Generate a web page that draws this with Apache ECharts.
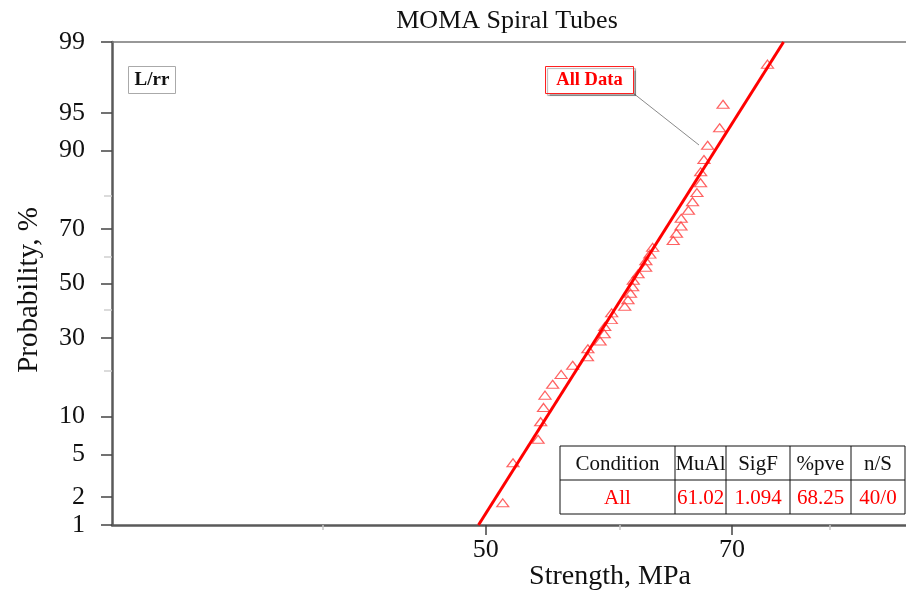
<!DOCTYPE html>
<html><head><meta charset="utf-8">
<script src="https://cdn.jsdelivr.net/npm/echarts@6/dist/echarts.min.js"></script>
<style>html,body{margin:0;padding:0;background:#fff}#c{width:906px;height:595px}</style>
</head><body><div id="c"></div>
<script>
// ---- data ----
const strength = [51.17, 51.89, 53.70, 53.89, 54.10, 54.21, 54.78, 55.42, 56.30, 57.45,
                  57.48, 58.45, 58.78, 58.82, 59.35, 59.38, 60.45, 60.72, 60.93, 61.11,
                  61.16, 61.56, 62.20, 62.22, 62.56, 62.80, 64.59, 64.88, 65.28, 65.30,
                  65.95, 66.32, 66.72, 67.05, 67.06, 67.36, 67.70, 68.82, 69.14, 73.47];
const probability = [1.73, 4.21, 6.68, 9.16, 11.63, 14.11, 16.58, 19.06, 21.53, 24.01,
                     26.49, 28.96, 31.44, 33.91, 36.39, 38.86, 41.34, 43.81, 46.29, 48.76,
                     51.24, 53.71, 56.19, 58.66, 61.14, 63.61, 66.09, 68.56, 71.04, 73.51,
                     75.99, 78.47, 80.94, 83.42, 85.89, 88.37, 90.84, 93.32, 95.79, 98.27];
const fitStrength = [49.5, 75.1];
const fitProbability = [1, 99];
const yTickLabels = [1, 2, 5, 10, 30, 50, 70, 90, 95, 99];
const yMinorTicks = [20, 40, 60, 80];
const xTickLabels = [50, 70];
const xMinorTicks = [40, 60, 80];
const xRange = [30, 90];
const yRange = [1, 99];
const tableHeader = ['Condition', 'MuAl', 'SigF', '%pve', 'n/S'];
const tableRow = ['All', '61.02', '1.094', '68.25', '40/0'];

// ---- scale transforms (lognormal probability paper) ----
function normInv(p){
  const a=[-3.969683028665376e+01,2.209460984245205e+02,-2.759285104469687e+02,1.383577518672690e+02,-3.066479806614716e+01,2.506628277459239e+00];
  const b=[-5.447609879822406e+01,1.615858368580409e+02,-1.556989798598866e+02,6.680131188771972e+01,-1.328068155288572e+01];
  const c=[-7.784894002430293e-03,-3.223964580411365e-01,-2.400758277161838e+00,-2.549732539343734e+00,4.374664141464968e+00,2.938163982698783e+00];
  const d=[7.784695709041462e-03,3.224671290700398e-01,2.445134137142996e+00,3.754408661907416e+00];
  const pl=0.02425, ph=1-pl; let q,r;
  if(p<pl){q=Math.sqrt(-2*Math.log(p));return (((((c[0]*q+c[1])*q+c[2])*q+c[3])*q+c[4])*q+c[5])/((((d[0]*q+d[1])*q+d[2])*q+d[3])*q+1);}
  if(p<=ph){q=p-0.5;r=q*q;return (((((a[0]*r+a[1])*r+a[2])*r+a[3])*r+a[4])*r+a[5])*q/(((((b[0]*r+b[1])*r+b[2])*r+b[3])*r+b[4])*r+1);}
  q=Math.sqrt(-2*Math.log(1-p));return -(((((c[0]*q+c[1])*q+c[2])*q+c[3])*q+c[4])*q+c[5])/((((d[0]*q+d[1])*q+d[2])*q+d[3])*q+1);
}
const X = v => Math.log(v);
const Y = p => normInv(p / 100);
function nearestLabel(list, f){ return v => { let best = list[0], bd = Infinity; list.forEach(t => { const dd = Math.abs(f(t) - v); if (dd < bd) { bd = dd; best = t; } }); return String(best); }; }

const FONT = '"Liberation Serif", "Times New Roman", serif';
const chart = echarts.init(document.getElementById('c'), null, {renderer: 'canvas'});

const grid = {left: 112, top: 42, width: 804, height: 483, containLabel: false, outerBoundsMode: 'none'};

// table graphic
const colX = [560, 675, 726, 790, 851, 905];
const rowY = [446, 480, 514];
const tableEls = [];
tableEls.push({type: 'rect', shape: {x: colX[0], y: rowY[0], width: colX[5]-colX[0], height: rowY[2]-rowY[0]}, style: {fill: '#fff', stroke: '#111', lineWidth: 1}});
tableEls.push({type: 'line', shape: {x1: colX[0], y1: rowY[1], x2: colX[5], y2: rowY[1]}, style: {stroke: '#111', lineWidth: 1}});
for (let i = 1; i < 5; i++) tableEls.push({type: 'line', shape: {x1: colX[i], y1: rowY[0], x2: colX[i], y2: rowY[2]}, style: {stroke: '#111', lineWidth: 1}});
for (let i = 0; i < 5; i++) {
  const cx = (colX[i] + colX[i+1]) / 2;
  tableEls.push({type: 'text', x: cx, y: (rowY[0]+rowY[1])/2 + 1, style: {text: tableHeader[i], fontSize: 21, fontFamily: FONT, fill: '#111', align: 'center', verticalAlign: 'middle'}});
  tableEls.push({type: 'text', x: cx, y: (rowY[1]+rowY[2])/2 + 1, style: {text: tableRow[i], fontSize: 21, fontFamily: FONT, fill: '#ff0000', align: 'center', verticalAlign: 'middle'}});
}

const option = {
  animation: false,
  backgroundColor: '#fff',
  grid: grid,
  xAxis: [
    {type: 'value', min: X(xRange[0]), max: X(xRange[1]), position: 'bottom',
     axisLine: {onZero: false, lineStyle: {color: '#5a5a5a', width: 2.5}},
     axisTick: {customValues: xTickLabels.map(X), length: 10, lineStyle: {color: '#444', width: 1.5}},
     axisLabel: {customValues: xTickLabels.map(X), formatter: nearestLabel(xTickLabels, X), fontSize: 26, fontFamily: FONT, color: '#111', margin: 12},
     splitLine: {show: false}},
    {type: 'value', min: X(xRange[0]), max: X(xRange[1]), position: 'bottom', offset: 0,
     axisLine: {show: false, onZero: false},
     axisTick: {customValues: xMinorTicks.map(X), length: 5, lineStyle: {color: '#c8c8c8', width: 1.5}},
     axisLabel: {show: false}, splitLine: {show: false}},
    {type: 'value', min: X(xRange[0]), max: X(xRange[1]), position: 'top', offset: 0,
     axisLine: {onZero: false, lineStyle: {color: '#777', width: 1.5}},
     axisTick: {show: false}, axisLabel: {show: false}, splitLine: {show: false}}
  ],
  yAxis: [
    {type: 'value', min: Y(yRange[0]), max: Y(yRange[1]), position: 'left',
     axisLine: {show: true, onZero: false, lineStyle: {color: '#5a5a5a', width: 2.5}},
     axisTick: {show: true, customValues: yTickLabels.map(Y), length: 11, lineStyle: {color: '#444', width: 1.5}},
     axisLabel: {customValues: yTickLabels.map(Y), formatter: nearestLabel(yTickLabels, Y), fontSize: 26, fontFamily: FONT, color: '#111', margin: 27},
     splitLine: {show: false}},
    {type: 'value', min: Y(yRange[0]), max: Y(yRange[1]), position: 'left', offset: 0,
     axisLine: {show: false, onZero: false},
     axisTick: {show: true, customValues: yMinorTicks.map(Y), length: 8, lineStyle: {color: '#cfcfcf', width: 1.5}},
     axisLabel: {show: false}, splitLine: {show: false}}
  ],
  series: [
    {type: 'scatter', name: 'All Data', xAxisIndex: 0, yAxisIndex: 0,
     data: strength.map((s, i) => [X(s), Y(probability[i])]),
     symbol: 'triangle', symbolSize: [12, 8],
     itemStyle: {color: 'rgba(255,255,255,0)', borderColor: '#ff3b3b', borderWidth: 1.2},
     z: 2, silent: true},
    {type: 'line', name: 'fit', xAxisIndex: 0, yAxisIndex: 0,
     data: fitStrength.map((s, i) => [X(s), Y(fitProbability[i])]),
     symbol: 'none', lineStyle: {color: '#ff0000', width: 3}, z: 3, silent: true}
  ],
  graphic: [
    {type: 'text', x: 507, y: 21, style: {text: 'MOMA Spiral Tubes', fontSize: 26, fontFamily: FONT, fill: '#111', align: 'center', verticalAlign: 'middle'}},
    {type: 'text', x: 610, y: 577, style: {text: 'Strength, MPa', fontSize: 28, fontFamily: FONT, fill: '#111', align: 'center', verticalAlign: 'middle'}},
    {type: 'text', x: 29, y: 290, rotation: Math.PI / 2, style: {text: 'Probability, %', fontSize: 29, fontFamily: FONT, fill: '#111', align: 'center', verticalAlign: 'middle'}},
    // L/rr box
    {type: 'rect', shape: {x: 128.5, y: 66.5, width: 47, height: 27}, style: {fill: '#fff', stroke: '#aaa', lineWidth: 1}, z: 10},
    {type: 'text', x: 152, y: 80.5, style: {text: 'L/rr', fontSize: 19, fontWeight: 'bold', fontFamily: FONT, fill: '#111', align: 'center', verticalAlign: 'middle'}, z: 11},
    // All Data callout
    {type: 'line', shape: {x1: 633, y1: 93, x2: 699, y2: 145}, style: {stroke: '#8a8a8a', lineWidth: 1}, z: 9},
    {type: 'rect', shape: {x: 545.5, y: 66.5, width: 88, height: 27}, style: {fill: '#fff', stroke: '#ff2020', lineWidth: 1, shadowColor: 'rgba(0,0,0,0.3)', shadowOffsetX: 2, shadowOffsetY: 2, shadowBlur: 1}, z: 10},
    {type: 'text', x: 589.5, y: 80.5, style: {text: 'All Data', fontSize: 18.5, fontWeight: 'bold', fontFamily: FONT, fill: '#ff0000', align: 'center', verticalAlign: 'middle'}, z: 11},
    {type: 'group', z: 10, children: tableEls}
  ]
};
chart.setOption(option);
</script>
</body></html>
